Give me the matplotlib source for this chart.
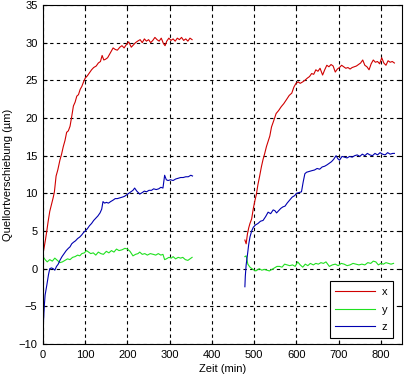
import numpy as np
import matplotlib
matplotlib.use('Agg')
import matplotlib.pyplot as plt

plt.rcParams['font.family'] = ['Liberation Sans', 'DejaVu Sans']

######################################
# first run  (0 .. 355 min)

r1_t = [0, 3, 6, 9, 12, 16, 20, 24, 27, 31, 35, 40, 44, 48, 52, 56, 60, 64, 68, 72,
        76, 80, 84, 88, 92, 96, 100, 105, 110, 115, 120, 126, 131, 136, 140, 144, 148, 153, 158, 162,
        166, 171, 176, 182, 187, 192, 198, 203, 209, 214, 219, 224, 230, 235, 240, 245, 250, 255, 260, 265,
        270, 275, 280, 285, 289, 293, 298, 303, 308, 313, 318, 323, 328, 333, 338, 343, 348, 353]
r1_v = [2.0, 2.9, 3.9, 5.0, 6.2, 7.6, 8.5, 9.4, 10.2, 12.3, 13.1, 14.4, 15.2, 16.2, 17.0, 18.1, 18.3, 18.9, 20.2, 21.6,
        22.1, 22.9, 23.1, 23.8, 24.2, 24.8, 25.3, 25.6, 26.0, 26.4, 26.7, 26.9, 27.3, 27.5, 28.3, 27.7, 27.8, 28.0, 28.5, 28.9,
        29.3, 29.1, 29.0, 29.4, 29.6, 29.3, 29.8, 30.1, 29.4, 29.7, 30.0, 30.2, 30.4, 30.0, 30.5, 30.2, 30.4, 30.0, 30.3, 30.7,
        30.4, 30.2, 30.6, 29.9, 29.6, 30.2, 30.6, 30.3, 30.5, 30.2, 30.6, 30.4, 30.7, 30.3, 30.5, 30.2, 30.6, 30.4]

g1_t = [0, 5, 10, 16, 22, 28, 34, 40, 46, 52, 58, 64, 70, 76, 82, 87, 92, 98, 103, 108,
        113, 119, 125, 131, 137, 143, 150, 156, 162, 168, 174, 180, 187, 194, 200, 206, 213, 219, 225, 229,
        235, 241, 247, 254, 261, 267, 273, 279, 284, 288, 292, 298, 304, 308, 314, 320, 326, 331, 337, 343,
        348, 353]
g1_v = [1.6, 1.2, 0.9, 1.2, 1.0, 1.4, 1.1, 0.8, 0.9, 1.1, 1.3, 1.2, 1.5, 1.6, 1.8, 1.7, 2.0, 2.1, 2.4, 2.2,
        2.0, 2.1, 1.8, 2.2, 2.0, 1.9, 2.3, 2.1, 2.4, 2.2, 2.6, 2.4, 2.5, 2.7, 2.6, 2.3, 1.7, 1.9, 2.0, 2.2,
        1.9, 2.0, 1.8, 2.0, 1.9, 1.8, 2.0, 1.8, 1.9, 1.2, 1.3, 1.5, 1.4, 1.6, 1.3, 1.5, 1.4, 1.5, 1.2, 1.1,
        1.3, 1.5]

b1_t = [0, 1, 3, 5, 9, 13, 16, 20, 24, 28, 32, 36, 40, 45, 50, 55, 60, 64, 68, 72,
        77, 82, 87, 92, 96, 100, 105, 110, 115, 120, 125, 130, 135, 139, 142, 146, 150, 155, 160, 166,
        171, 176, 182, 188, 193, 198, 203, 208, 213, 217, 222, 229, 235, 240, 245, 251, 257, 262, 268, 274,
        279, 284, 288, 292, 296, 302, 308, 314, 320, 326, 332, 338, 344, 350, 354]
b1_v = [-9.0, -7.2, -5.0, -3.5, -2.2, -0.8, 0.0, 0.1, 0.0, -0.2, 0.3, 0.6, 1.1, 1.6, 2.0, 2.4, 2.7, 2.9, 3.3, 3.5,
        3.7, 4.0, 4.2, 4.5, 4.8, 5.0, 5.3, 5.7, 6.0, 6.4, 6.7, 7.0, 7.4, 7.9, 8.9, 8.7, 8.8, 8.7, 8.9, 9.1,
        9.3, 9.3, 9.4, 9.5, 9.6, 9.8, 10.0, 10.2, 10.4, 10.7, 10.3, 9.9, 10.1, 10.3, 10.2, 10.4, 10.4, 10.6, 10.5, 10.6,
        10.8, 10.7, 12.4, 11.8, 11.7, 11.8, 11.7, 11.9, 12.0, 12.1, 12.1, 12.2, 12.2, 12.4, 12.3]

######################################
# second run  (478 .. 832 min)

r2_t = [478, 481, 484, 487, 490, 494, 498, 502, 505, 509, 513, 517, 521, 525, 529, 533, 537, 541, 546, 552,
        558, 564, 570, 576, 583, 589, 594, 599, 604, 609, 615, 620, 626, 631, 636, 641, 646, 651, 656, 662,
        667, 672, 677, 682, 687, 692, 697, 702, 707, 712, 717, 722, 727, 732, 737, 742, 747, 752, 757, 762,
        767, 772, 777, 782, 787, 792, 797, 802, 807, 812, 817, 822, 827, 832]
r2_v = [3.8, 3.3, 4.6, 5.4, 6.0, 6.6, 8.0, 9.1, 9.8, 11.2, 12.3, 13.5, 14.5, 15.3, 16.2, 16.9, 17.6, 18.8, 19.6, 20.6,
        21.0, 21.5, 21.9, 22.4, 23.0, 23.3, 24.1, 24.6, 24.8, 24.6, 24.8, 25.0, 25.3, 25.5, 25.9, 25.8, 26.4, 26.2, 26.6, 25.7,
        26.4, 27.0, 26.8, 27.1, 26.9, 26.1, 26.5, 26.7, 27.0, 26.8, 26.6, 26.7, 26.5, 26.7, 26.8, 26.9, 27.1, 27.3, 27.7, 27.0,
        26.8, 26.4, 27.2, 27.7, 27.4, 27.5, 27.2, 28.0, 27.3, 27.0, 27.6, 27.4, 27.5, 27.3]

g2_t = [478, 481, 485, 490, 497, 504, 512, 518, 524, 530, 536, 542, 548, 554, 560, 566, 572, 578, 584, 591,
        597, 603, 609, 615, 621, 627, 633, 640, 646, 652, 658, 664, 670, 678, 685, 692, 699, 706, 713, 720,
        727, 734, 741, 748, 755, 762, 769, 776, 782, 788, 794, 800, 806, 812, 818, 824, 830]
g2_v = [1.6, 1.7, 0.6, 0.2, -0.1, -0.3, 0.0, -0.2, -0.1, -0.2, -0.3, -0.1, 0.1, 0.3, 0.3, 0.2, 0.6, 0.5, 0.4, 0.5,
        0.3, 0.9, 0.5, 0.2, 0.6, 0.4, 0.7, 0.5, 0.7, 0.6, 0.8, 0.7, 0.9, 0.3, 0.5, 0.6, 0.4, 0.7, 0.6, 0.4,
        0.5, 0.7, 0.6, 0.5, 0.6, 0.5, 0.8, 0.7, 1.0, 0.9, 0.5, 0.7, 0.6, 0.8, 0.7, 0.6, 0.7]

b2_t = [478, 479, 481, 484, 487, 490, 494, 498, 503, 509, 515, 521, 527, 533, 539, 545, 549, 553, 558, 563,
        568, 573, 578, 584, 590, 596, 600, 606, 612, 616, 620, 624, 630, 636, 643, 649, 655, 661, 667, 673,
        678, 683, 688, 694, 698, 702, 708, 714, 720, 726, 732, 738, 744, 750, 756, 762, 768, 774, 780, 786,
        792, 798, 804, 810, 816, 822, 828, 832]
b2_v = [-2.4, -1.0, 0.5, 1.8, 3.2, 4.2, 5.0, 5.5, 5.8, 6.0, 6.3, 6.4, 6.9, 7.5, 7.3, 7.8, 7.7, 7.4, 7.7, 8.0,
        8.2, 8.3, 8.7, 9.1, 9.5, 9.7, 10.0, 10.1, 10.2, 11.5, 12.6, 12.8, 12.9, 13.0, 13.1, 13.3, 13.2, 13.5, 13.6, 13.8,
        14.0, 14.2, 14.5, 15.0, 14.6, 14.4, 14.9, 14.8, 14.7, 14.9, 14.8, 15.0, 15.1, 14.9, 15.2, 15.0, 15.3, 15.1, 15.0, 15.3,
        15.1, 15.4, 15.2, 15.1, 15.4, 15.2, 15.3, 15.3]

xticks = [0, 100, 200, 300, 400, 500, 600, 700, 800]
yticks = [-10, -5, 0, 5, 10, 15, 20, 25, 30, 35]

c_x = '#d00000'
c_y = '#20e020'
c_z = '#0000b0'

######################################

fig = plt.figure(figsize=(4.04, 3.80), dpi=100)
ax = fig.add_axes([43/404, 36/380, 359/404, 339/380])

lw = 0.8
ax.plot(r1_t, r1_v, color=c_x, lw=lw, label='x')
ax.plot(g1_t, g1_v, color=c_y, lw=lw, label='y')
ax.plot(b1_t, b1_v, color=c_z, lw=lw, label='z')
ax.plot(r2_t, r2_v, color=c_x, lw=lw)
ax.plot(g2_t, g2_v, color=c_y, lw=lw)
ax.plot(b2_t, b2_v, color=c_z, lw=lw)

ax.set_xlim(0, 850)
ax.set_ylim(-10, 35)
ax.set_xticks(xticks)
ax.set_yticks(yticks)
ax.grid(True, color='black', linestyle=(0, (3, 3)), linewidth=0.8)
ax.set_axisbelow(True)

ax.tick_params(direction='in', length=3, width=0.8, labelsize=8, pad=4,
               top=True, right=True)
for s in ax.spines.values():
  s.set_linewidth(0.8)
  s.set_color('black')

ax.set_xlabel('Zeit (min)', fontsize=8)
ax.set_ylabel('Quellortverschiebung (µm)', fontsize=8)
ax.xaxis.set_label_coords(0.5, -0.058)
ax.yaxis.set_label_coords(-0.083, 0.5)

leg = ax.legend(loc='lower right', bbox_to_anchor=(0.975, 0.018), borderaxespad=0,
                fontsize=8, handlelength=3.6, handletextpad=0.6, labelspacing=0.7,
                fancybox=False, framealpha=1, edgecolor='black', borderpad=0.5)
leg.get_frame().set_linewidth(0.8)

plt.savefig('out.png', dpi=100)
